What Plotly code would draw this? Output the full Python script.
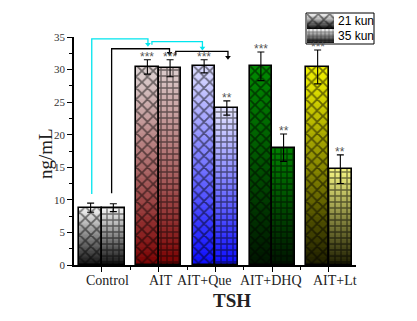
import plotly.graph_objects as go
import numpy as np

# ---------------- data ----------------
categories = ["Control", "AIT", "AIT+Que", "AIT+DHQ", "AIT+Lt"]
series_names = ["21 kun", "35 kun"]
mean_21 = [8.8, 30.4, 30.5, 30.5, 30.4]
sd_21 = [0.7, 1.1, 1.0, 2.2, 2.6]
mean_35 = [8.8, 30.2, 24.1, 18.0, 14.7]
sd_35 = [0.6, 1.3, 1.1, 2.1, 2.2]
stars_21 = ["", "***", "***", "***", "***"]
stars_35 = ["", "***", "**", "**", "**"]
y_ticks = [0, 5, 10, 15, 20, 25, 30, 35]

# ---------------- styling ----------------
top_21 = ["#f6f6f6", "#ddd2d2", "#dcdcff", "#008a00", "#f2f200"]
bot_21 = ["#101010", "#7a0000", "#0a0aff", "#001400", "#1c1c00"]
top_35 = ["#f6f6f6", "#dccccc", "#e4e4ff", "#008000", "#f4f482"]
bot_35 = ["#101010", "#7a0000", "#0a0aff", "#001400", "#1c1c00"]
BW = 0.4
OFF = 0.2

W, H = 417, 321
L, R, T, B = 74, 356, 10, 265
def px(x):
    return (x - L) / (R - L)
def py(y):
    return (B - y) / (B - T)

def hex2rgb(h):
    h = h.lstrip("#")
    return np.array([int(h[i:i + 2], 16) for i in (0, 2, 4)], float)

def grad_segments(xc, top, topc, botc, n=40):
    xs, bases, hs, cols = [], [], [], []
    t = hex2rgb(topc); b = hex2rgb(botc)
    step = top / n
    for k in range(n):
        f = (k + 0.5) / n
        c = b + (t - b) * f
        lo = max(0, k * step - 0.4 * step)
        hi = (k + 1) * step
        xs.append(xc); bases.append(lo); hs.append(hi - lo)
        cols.append("rgb(%d,%d,%d)" % tuple(c))
    return xs, bases, hs, cols

fig = go.Figure()

# gradient fills
gx, gb, gh, gc = [], [], [], []
for i in range(len(categories)):
    for xc, v, tc, bc in [(i - OFF, mean_21[i], top_21[i], bot_21[i]),
                          (i + OFF, mean_35[i], top_35[i], bot_35[i])]:
        a, b_, c, d = grad_segments(xc, v, tc, bc)
        gx += a; gb += b_; gh += c; gc += d
fig.add_trace(go.Bar(x=gx, y=gh, base=gb, width=BW, marker=dict(color=gc, line=dict(width=0)),
                     showlegend=False, hoverinfo="skip"))

# pattern overlays with outline and error bars
xi = np.arange(len(categories))
fig.add_trace(go.Bar(
    x=xi - OFF, y=mean_21, width=BW, name=series_names[0], showlegend=False,
    marker=dict(color="rgba(0,0,0,0)", line=dict(color="black", width=1.6),
                pattern=dict(shape="x", fgcolor="black", bgcolor="rgba(0,0,0,0)",
                             size=8, solidity=0.4, fillmode="overlay")),
    error_y=dict(type="data", array=sd_21, color="black", thickness=1.1, width=3.5)))
fig.add_trace(go.Bar(
    x=xi + OFF, y=mean_35, width=BW, name=series_names[1], showlegend=False,
    marker=dict(color="rgba(0,0,0,0)", line=dict(color="black", width=1.6),
                pattern=dict(shape="+", fgcolor="black", bgcolor="rgba(0,0,0,0)",
                             size=6, solidity=0.4, fillmode="overlay")),
    error_y=dict(type="data", array=sd_35, color="black", thickness=1.1, width=3.5)))

# significance stars
ann = []
for i in range(len(categories)):
    for xc, m, s, st in [(i - OFF, mean_21[i], sd_21[i], stars_21[i]),
                         (i + OFF, mean_35[i], sd_35[i], stars_35[i])]:
        if st:
            ann.append(dict(x=xc, y=m + s, xref="x", yref="y", text=st, showarrow=False,
                            yanchor="bottom", yshift=-6,
                            font=dict(family="Liberation Sans, Arial", size=12, color="#555555")))

# comparison brackets (cyan: vs 21 kun, black: vs 35 kun)
def bracket(xs, ys, color):
    fig.add_trace(go.Scatter(x=xs, y=ys, mode="lines", line=dict(color=color, width=1.3),
                             showlegend=False, hoverinfo="skip", cliponaxis=False))
    fig.add_trace(go.Scatter(x=[xs[-1]], y=[ys[-1]], mode="markers",
                             marker=dict(symbol="triangle-down", size=5, color=color),
                             showlegend=False, hoverinfo="skip", cliponaxis=False))

bracket([-0.18, -0.18, 0.81, 0.81], [10.9, 34.7, 34.7, 33.9], "#00e5ee")
bracket([0.88, 0.88, 1.77, 1.77], [33.8, 34.3, 34.3, 33.3], "#00e5ee")
bracket([0.17, 0.17, 1.19, 1.19], [11.0, 33.2, 33.2, 32.5], "black")
bracket([1.30, 1.30, 2.22, 2.22], [32.2, 32.8, 32.8, 31.9], "black")

# category labels
label_shift = [6, 2, -11, -1, 6]
for i, c in enumerate(categories):
    ann.append(dict(x=i, y=0, xref="x", yref="paper", text=c, showarrow=False,
                    xanchor="center", yanchor="top", xshift=label_shift[i], yshift=-6,
                    font=dict(family="Liberation Serif, Times New Roman", size=14, color="#222")))

# axis titles
ann.append(dict(x=px(232), y=py(300), xref="paper", yref="paper", text="<b>TSH</b>",
                xanchor="center", yanchor="middle",
                showarrow=False, font=dict(family="Liberation Serif, Times New Roman", size=19, color="#222")))
ann.append(dict(x=px(45), y=py(154), xref="paper", yref="paper", text="ng/mL", textangle=-90,
                xanchor="center", yanchor="middle",
                showarrow=False, font=dict(family="Liberation Serif, Times New Roman", size=19, color="#222")))

# legend (inset)
sw_top = ["#f0f0f0", "#f0f0f0"]
sw_bot = ["#000000", "#000000"]
lg_x, lg_b, lg_h, lg_c = [], [], [], []
for r_, (tc, bc) in enumerate(zip(sw_top, sw_bot)):
    base0 = 1 - r_
    t = hex2rgb(tc); b = hex2rgb(bc)
    n = 12
    for k in range(n):
        f = (k + 0.5) / n
        c = b + (t - b) * f
        lo = base0 + max(0, (k - 0.4) / n)
        lg_x.append(0.5); lg_b.append(lo); lg_h.append(base0 + (k + 1) / n - lo)
        lg_c.append("rgb(%d,%d,%d)" % tuple(c))
fig.add_trace(go.Bar(x=lg_x, y=lg_h, base=lg_b, width=1, xaxis="x2", yaxis="y2",
                     marker=dict(color=lg_c, line=dict(width=0)), showlegend=False, hoverinfo="skip"))
fig.add_trace(go.Bar(x=[0.5], y=[1], base=[1], width=1, xaxis="x2", yaxis="y2", showlegend=False,
                     marker=dict(color="rgba(0,0,0,0)", line=dict(width=0),
                                 pattern=dict(shape="x", fgcolor="black", bgcolor="rgba(0,0,0,0)",
                                              size=8, solidity=0.4, fillmode="overlay"))))
fig.add_trace(go.Bar(x=[0.5], y=[1], base=[0], width=1, xaxis="x2", yaxis="y2", showlegend=False,
                     marker=dict(color="rgba(0,0,0,0)", line=dict(width=0),
                                 pattern=dict(shape="+", fgcolor="black", bgcolor="rgba(0,0,0,0)",
                                              size=4, solidity=0.3, fillmode="overlay"))))
for r_, nm in enumerate(series_names):
    ann.append(dict(x=px(336), y=py(21 + 15 * r_), xref="paper", yref="paper", text=nm,
                    showarrow=False, xanchor="left", yanchor="middle",
                    font=dict(family="Liberation Sans, Arial", size=12, color="black")))

shapes = [dict(type="rect", xref="paper", yref="paper", x0=px(306), x1=px(374), y0=py(13), y1=py(44),
               line=dict(color="black", width=1), fillcolor="rgba(0,0,0,0)")]

fig.update_layout(
    width=W, height=H, margin=dict(l=L, r=W - R, t=T, b=H - B, autoexpand=False),
    paper_bgcolor="white", plot_bgcolor="white", barmode="overlay", bargap=0,
    showlegend=False, annotations=ann, shapes=shapes,
    xaxis=dict(range=[-0.493, 4.476], tickvals=list(xi), showticklabels=False, automargin=False,
               ticks="outside", ticklen=5, tickwidth=1, tickcolor="black",
               showline=True, linecolor="black", linewidth=1.5, showgrid=False, zeroline=False,
               minor=dict(tickvals=list(xi[:-1] + 0.5) , ticks="outside", ticklen=3, tickcolor="black")),
    yaxis=dict(range=[0, 35], domain=[0, py(37)], tickvals=y_ticks, ticks="outside", ticklen=5,
               automargin=False,
               tickwidth=1, tickcolor="black", showline=True, linecolor="black", linewidth=1.5,
               showgrid=False, zeroline=False,
               tickfont=dict(family="Liberation Serif, Times New Roman", size=11, color="#333"),
               minor=dict(dtick=2.5, ticks="outside", ticklen=3, tickcolor="black")),
    xaxis2=dict(domain=[px(307), px(334)], range=[0, 1], anchor="y2", visible=False, fixedrange=True),
    yaxis2=dict(domain=[py(43), py(14)], range=[0, 2], anchor="x2", visible=False, fixedrange=True),
)

fig.write_html("out.html")
